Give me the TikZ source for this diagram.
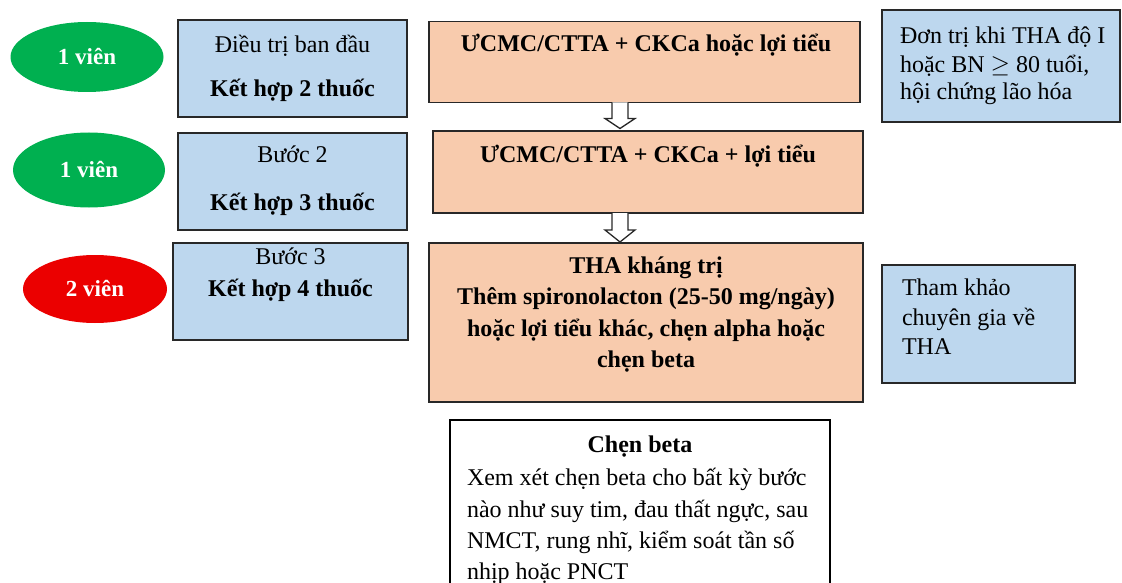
\documentclass[tikz,border=0pt]{standalone}
\usepackage{fontspec}
\setmainfont{Liberation Serif}
\usetikzlibrary{shapes.geometric,calc}
\definecolor{pillgreen}{RGB}{0,176,80}
\definecolor{pillred}{RGB}{235,0,0}
\definecolor{lblue}{RGB}{189,215,238}
\definecolor{lorange}{RGB}{248,203,173}
\definecolor{boxline}{RGB}{40,40,40}
\begin{document}
\begin{tikzpicture}[x=1pt,y=-1pt,
  every node/.style={inner sep=0pt,outer sep=0pt},
  pill/.style={ellipse,text=white,font=\fontsize{23}{28}\selectfont\bfseries},
  bluebox/.style={draw=boxline,line width=1.6pt,fill=lblue},
  orangebox/.style={draw=boxline,line width=1.6pt,fill=lorange},
  whitebox/.style={draw=black,line width=1.4pt,fill=white},
  ctxt/.style={anchor=base,font=\fontsize{24}{29}\selectfont},
  btxt/.style={anchor=base,font=\fontsize{24}{29}\selectfont\bfseries},
  ltxt/.style={anchor=base west,font=\fontsize{24}{29}\selectfont},
  hollow/.style={draw=boxline,line width=1.3pt,fill=white,line join=miter}
]
\useasboundingbox (0,0) rectangle (1122,583);
\begin{scope}
\clip (0,0) rectangle (1122,583);
% pills
\node[pill,fill=pillgreen,minimum width=153pt,minimum height=70pt] (p1) at (87,57) {1 viên};
\node[pill,fill=pillgreen,minimum width=152pt,minimum height=75pt] (p2) at (89,170) {1 viên};
\node[pill,fill=pillred,minimum width=144pt,minimum height=68pt] (p3) at (95,289) {2 viên};
% blue step boxes
\node[bluebox,minimum width=229pt,minimum height=97pt] (b1) at (292.5,68.5) {};
\node[bluebox,minimum width=229pt,minimum height=97pt] (b2) at (292.5,181.5) {};
\node[bluebox,minimum width=235pt,minimum height=97pt] (b3) at (290.5,291.5) {};
\node[ctxt] (b1a) at (292.5,53) {Điều trị ban đầu};
\node[btxt] (b1b) at (292.5,97) {Kết hợp 2 thuốc};
\node[ctxt] (b2a) at (292.5,163) {Bước 2};
\node[btxt] (b2b) at (292.5,211) {Kết hợp 3 thuốc};
\node[ctxt] (b3a) at (290.5,264) {Bước 3};
\node[btxt] (b3b) at (290.5,296) {Kết hợp 4 thuốc};
% orange boxes
\node[orangebox,minimum width=431pt,minimum height=81pt] (o1) at (644.5,62) {};
\node[orangebox,minimum width=430pt,minimum height=82pt] (o2) at (648,172) {};
\node[orangebox,minimum width=434pt,minimum height=159pt] (o3) at (646,322.5) {};
\node[btxt] (o1t) at (646,52) {ƯCMC/CTTA + CKCa hoặc lợi tiểu};
\node[btxt] (o2t) at (648,163) {ƯCMC/CTTA + CKCa + lợi tiểu};
\node[btxt] (o3a) at (646,273) {THA kháng trị};
\node[btxt] (o3b) at (646,304) {Thêm spironolacton (25-50 mg/ngày)};
\node[btxt] (o3c) at (646,336) {hoặc lợi tiểu khác, chẹn alpha hoặc};
\node[btxt] (o3d) at (646,367) {chẹn beta};
% hollow arrows between orange boxes
\draw[hollow] ($(o1.south)+(-32.5,0)$) -- ++(0,16) -- ++(-7,0) -- ++(15,10) -- ++(15,-10) -- ++(-7,0) -- ++(0,-16);
\draw[hollow] ($(o2.south)+(-36,0)$) -- ++(0,17) -- ++(-7,0) -- ++(15,12) -- ++(15,-12) -- ++(-7,0) -- ++(0,-17);
% right notes
\node[bluebox,minimum width=238pt,minimum height=112pt] (n1) at (1001,66) {};
\node[ltxt] (n1a) at (900,44) {Đơn trị khi THA độ I};
\node[ltxt] (n1b) at (900,73) {hoặc BN \(\geq\) 80 tuổi,};
\node[ltxt] (n1c) at (900,100) {hội chứng lão hóa};
\node[bluebox,minimum width=193pt,minimum height=118pt] (n2) at (978.5,324) {};
\node[ltxt] (n2a) at (902,295) {Tham khảo};
\node[ltxt] (n2b) at (902,325) {chuyên gia về};
\node[ltxt] (n2c) at (902,354) {THA};
% bottom box
\node[whitebox,minimum width=380pt,minimum height=200pt] (w) at (640,520) {};
\node[btxt] (wa) at (640,452) {Chẹn beta};
\node[ltxt] (wb) at (467,485) {Xem xét chẹn beta cho bất kỳ bước};
\node[ltxt] (wc) at (467,517) {nào như suy tim, đau thất ngực, sau};
\node[ltxt] (wd) at (467,548) {NMCT, rung nhĩ, kiểm soát tần số};
\node[ltxt] (we) at (467,579) {nhịp hoặc PNCT};
\end{scope}
\end{tikzpicture}
\end{document}
